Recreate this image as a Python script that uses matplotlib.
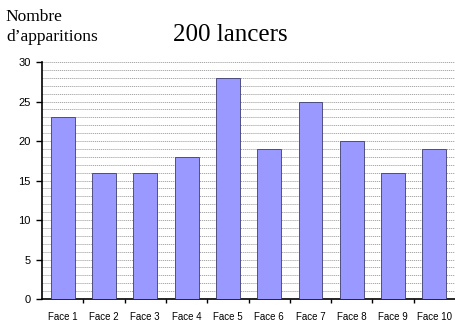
import numpy as np
import matplotlib
matplotlib.use("Agg")
import matplotlib.pyplot as plt

faces = ["Face 1", "Face 2", "Face 3", "Face 4", "Face 5",
         "Face 6", "Face 7", "Face 8", "Face 9", "Face 10"]
counts = [23, 16, 16, 18, 28, 19, 25, 20, 16, 19]
y_ticks = [0, 5, 10, 15, 20, 25, 30]

fig = plt.figure(figsize=(4.56, 3.23), dpi=100)
ax = fig.add_axes([0.092, 0.074, 0.906, 0.734])

x = np.arange(len(faces))
ax.bar(x, counts, width=0.58, color="#9999ff", edgecolor="#3c3c6e",
       linewidth=0.6, zorder=3)

# dotted grid at every unit
for v in range(1, 31):
    ax.axhline(v, color="#a8a8a8", linestyle=(0, (1.2, 0.8)), linewidth=0.7, zorder=1)

ax.set_xlim(-0.5, len(faces) - 0.5)
ax.set_ylim(0, 30)
ax.set_yticks(y_ticks)
ax.set_yticklabels([str(t) for t in y_ticks], fontsize=8, family="Liberation Sans")
ax.set_xticks(x)
ax.set_xticklabels(faces, fontsize=7, family="Liberation Sans")
ax.tick_params(axis="x", length=0, pad=9)
ax.set_xticks(np.arange(0.5, len(faces) - 0.5, 1), minor=True)
ax.tick_params(axis="x", which="minor", length=3, width=1, direction="out")
ax.tick_params(axis="y", length=4, width=1, direction="out", pad=4)

for side in ("top", "right"):
    ax.spines[side].set_visible(False)
ax.spines["left"].set_linewidth(1.2)
ax.spines["bottom"].set_linewidth(1.2)

fig.text(0.505, 0.893, "200 lancers", fontsize=18, family="Liberation Serif",
         ha="center", va="center")
fig.text(0.013, 0.947, "Nombre", fontsize=12.5, family="Liberation Serif",
         ha="left", va="center")
fig.text(0.013, 0.886, "d\u2019apparitions", fontsize=12.5, family="Liberation Serif",
         ha="left", va="center")

fig.savefig("out.png", dpi=100)
